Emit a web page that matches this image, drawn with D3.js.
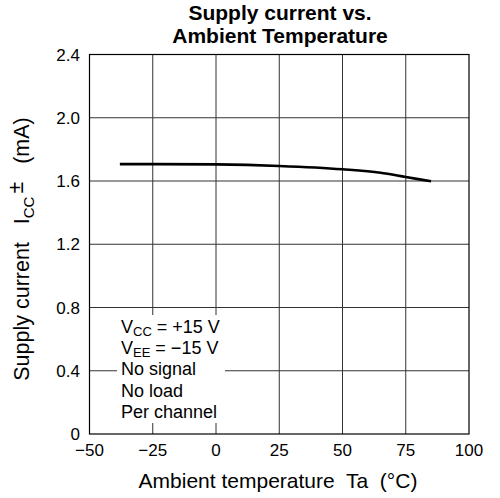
<!DOCTYPE html>
<html><head><meta charset="utf-8">
<script src="https://cdn.jsdelivr.net/npm/d3@7"></script>
<style>body{margin:0;background:#fff}svg{display:block;font-family:"Liberation Sans",Arial,Helvetica,sans-serif}text{white-space:pre}</style>
</head><body><svg id="c" width="500" height="498"></svg>
<script>
const temps = [-38, -25, 0, 25, 50, 65, 75, 85];
const currents = [1.707, 1.707, 1.705, 1.695, 1.674, 1.652, 1.625, 1.598];
const xTicks = [-50, -25, 0, 25, 50, 75, 100];
const yTicks = [0, 0.4, 0.8, 1.2, 1.6, 2.0, 2.4];
const yTickLabels = ["0", "0.4", "0.8", "1.2", "1.6", "2.0", "2.4"];
const xTickLabels = ["\u221250", "\u221225", "0", "25", "50", "75", "100"];
const titleLines = ["Supply current vs.", "Ambient Temperature"];
const notes = ["No signal", "No load", "Per channel"];

const svg = d3.select("#c");
const L = 89.5, R = 469, T = 54.5, B = 434;
const x = d3.scaleLinear().domain([-50, 100]).range([L, R]);
const y = d3.scaleLinear().domain([0, 2.4]).range([B, T]);

// grid
const g = svg.append("g");
g.selectAll(".vx").data(xTicks.slice(1, -1)).join("line")
  .attr("x1", d => x(d)).attr("x2", d => x(d)).attr("y1", T).attr("y2", B)
  .attr("stroke", "#333").attr("stroke-width", 1);
g.selectAll(".hy").data(yTicks.slice(1, -1)).join("line")
  .attr("x1", L).attr("x2", R).attr("y1", d => y(d)).attr("y2", d => y(d))
  .attr("stroke", "#333").attr("stroke-width", 1);

// white box behind notes
svg.append("rect").attr("x", 117).attr("y", 315).attr("width", 108).attr("height", 108).attr("fill", "#fff");

// frame
svg.append("rect").attr("x", L).attr("y", T).attr("width", R - L).attr("height", B - T)
  .attr("fill", "none").attr("stroke", "#000").attr("stroke-width", 1.2);

// curve
const line = d3.line().x((d, i) => x(temps[i])).y(d => y(d)).curve(d3.curveMonotoneX);
svg.append("path").attr("d", line(currents)).attr("fill", "none").attr("stroke", "#000").attr("stroke-width", 2.6);

// tick labels
svg.selectAll(".yt").data(yTicks).join("text")
  .attr("x", 80).attr("y", d => y(d) + 6).attr("text-anchor", "end")
  .attr("font-size", 17).text((d, i) => yTickLabels[i]);
svg.selectAll(".xt").data(xTicks).join("text")
  .attr("x", d => x(d)).attr("y", 456).attr("text-anchor", "middle")
  .attr("font-size", 17).text((d, i) => xTickLabels[i]);

// title
svg.selectAll(".tt").data(titleLines).join("text")
  .attr("x", 280).attr("y", (d, i) => 20 + i * 23.3).attr("text-anchor", "middle")
  .attr("font-size", 21).attr("font-weight", "bold").text(d => d);

// x title
svg.append("text").attr("x", 278).attr("y", 488).attr("text-anchor", "middle")
  .attr("font-size", 21).text("Ambient temperature  Ta  (\u00B0C)");

// y title
const yt = svg.append("text").attr("transform", "translate(29,249) rotate(-90)")
  .attr("text-anchor", "middle").attr("font-size", 21.5);
yt.append("tspan").text("Supply current   I");
yt.append("tspan").attr("font-size", 15).attr("dy", 5).text("CC");
yt.append("tspan").attr("dy", -11).attr("dx", 3).text("\u00B1");
yt.append("tspan").attr("dy", 6).text("   (mA)");

// notes
const n1 = svg.append("text").attr("x", 121).attr("y", 333).attr("font-size", 18);
n1.append("tspan").text("V");
n1.append("tspan").attr("font-size", 13).attr("dy", 3).text("CC");
n1.append("tspan").attr("dy", -3).text(" = +15 V");
const n2 = svg.append("text").attr("x", 121).attr("y", 354).attr("font-size", 18);
n2.append("tspan").text("V");
n2.append("tspan").attr("font-size", 13).attr("dy", 3).text("EE");
n2.append("tspan").attr("dy", -3).text(" = \u221215 V");
svg.selectAll(".nt").data(notes).join("text")
  .attr("x", 121).attr("y", (d, i) => 375 + i * 21.5).attr("font-size", 18).text(d => d);
</script></body></html>
